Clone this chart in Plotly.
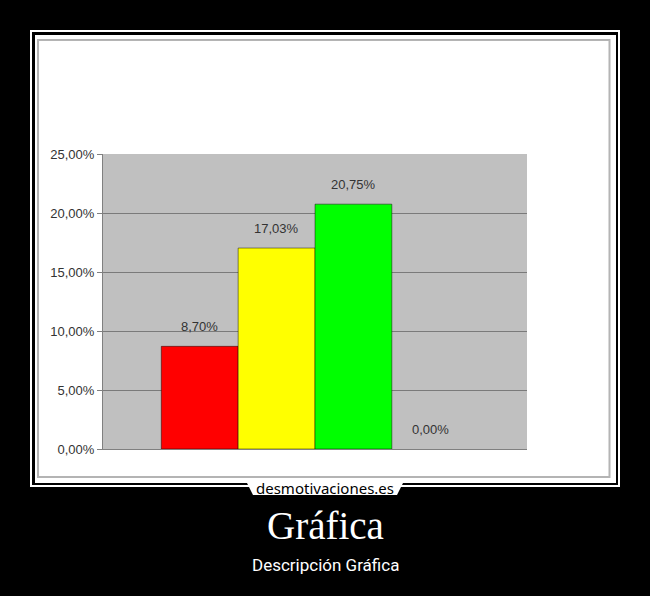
import plotly.graph_objects as go

# una sola categoría con cuatro series (gráfico de columnas tipo Excel)
categoria = [0]
series = ["Rojo", "Amarillo", "Verde", "Otro"]
valores = [8.70, 17.03, 20.75, 0.00]
colores = ["#ff0000", "#ffff00", "#00ff00", "#ffffff"]
marcas_y = [0, 5, 10, 15, 20, 25]
textos_y = [f"{m:.2f}%".replace(".", ",") for m in marcas_y]

titulo = "Gráfica"
descripcion = "Descripción Gráfica"
marca_web = "desmotivaciones.es"

W, H = 650, 596
L, R, T, B = 103, 123, 154, 147
GAP = 0.275
PW, PH = W - L - R, H - T - B


def px(x):  # pixel -> coordenada paper
    return (x - L) / PW


def py(y):
    return (H - B - y) / PH


fig = go.Figure()
for nombre, v, c in zip(series, valores, colores):
    fig.add_trace(go.Bar(x=categoria, y=[v], name=nombre, marker_color=c,
                         marker_line=dict(width=1 if v else 0,
                                          color="rgba(0,0,0,0.45)"),
                         showlegend=False))

# etiquetas de datos encima de cada barra
n = len(series)
ancho = (1 - GAP) / n
for i, v in enumerate(valores):
    xc = categoria[0] - (1 - GAP) / 2 + (i + 0.5) * ancho
    fig.add_annotation(x=xc, y=v, xref="x", yref="y", yshift=20,
                       text=f"{v:.2f}%".replace(".", ","), showarrow=False,
                       font=dict(family="Liberation Sans", size=13,
                                 color="#333333"))

shapes = [
    # marco exterior blanco
    dict(type="rect", x0=px(31), x1=px(619), y0=py(31), y1=py(486),
         line=dict(color="white", width=2)),
    # fondo blanco de la imagen
    dict(type="rect", x0=px(35), x1=px(616), y0=py(35), y1=py(483),
         fillcolor="white", line_width=0),
    # borde gris del gráfico
    dict(type="rect", x0=px(38), x1=px(609.5), y0=py(40), y1=py(477),
         line=dict(color="#b4b4b4", width=2)),
    # área de trazado gris
    dict(type="rect", x0=0, x1=1, y0=0, y1=1, fillcolor="#c0c0c0",
         line_width=0),
    # insignia de la web
    dict(type="path",
         path=f"M {px(246)},{py(481)} L {px(404)},{py(481)} "
              f"L {px(397)},{py(495)} L {px(253)},{py(495)} Z",
         fillcolor="white", line_width=0),
]
for s in shapes:
    s.update(xref="paper", yref="paper", layer="below")
fig.update_layout(shapes=shapes)

textos_fuera = [
    (marca_web, 488, dict(family="Noto Sans", size=15, color="black")),
    (titulo, 525, dict(family="Liberation Serif", size=39, color="white")),
    (descripcion, 565, dict(family="Roboto", size=17, color="white")),
]
for texto, y, fuente in textos_fuera:
    fig.add_annotation(x=px(325), y=py(y), xref="paper", yref="paper",
                       xanchor="center", yanchor="middle", text=texto,
                       showarrow=False, font=fuente)

fig.update_layout(
    width=W, height=H,
    margin=dict(l=L, r=R, t=T, b=B),
    paper_bgcolor="black",
    plot_bgcolor="rgba(0,0,0,0)",
    barmode="group", bargap=GAP, bargroupgap=0,
    xaxis=dict(range=[-0.5, 0.5], showticklabels=False, showgrid=False,
               zeroline=False, showline=True, linecolor="#808080",
               linewidth=1, ticks=""),
    yaxis=dict(range=[0, 25], tickvals=marcas_y, ticktext=textos_y,
               showgrid=True, gridcolor="#7a7a7a",
               gridwidth=1, zeroline=False, showline=True,
               linecolor="#808080", linewidth=1, ticks="outside",
               ticklen=5, tickcolor="#808080",
               tickfont=dict(family="Liberation Sans", size=13,
                             color="#333333")),
)

fig.write_html("out.html", config={"displayModeBar": False})

# sin margen del navegador alrededor de la figura
with open("out.html", encoding="utf-8") as f:
    html = f.read()
html = html.replace("<body>", '<body style="margin:0;overflow:hidden">', 1)
with open("out.html", "w", encoding="utf-8") as f:
    f.write(html)
